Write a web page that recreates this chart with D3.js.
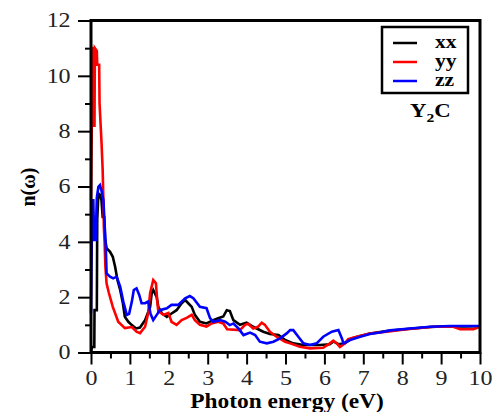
<!DOCTYPE html>
<html>
<head>
<meta charset="utf-8">
<script src="https://cdn.jsdelivr.net/npm/d3@7"></script>
<style>
  body { margin: 0; background: #fff; }
  svg { display: block; }
</style>
</head>
<body>
<div id="chart"></div>
<script>
// refractive index n(w) of Y2C, three polarisations
const xTicks = [0, 1, 2, 3, 4, 5, 6, 7, 8, 9, 10];
const yTicks = [0, 2, 4, 6, 8, 10, 12];
const seriesNames = ["xx", "yy", "zz"];
const seriesColours = ["#000000", "#ff0000", "#0000ff"];

const xx = [[0,0.05],[0.03,0.2],[0.085,0.2],[0.09,1.53],[0.15,1.53],[0.16,4.8],[0.19,5.75],[0.23,5.7],[0.27,5.5],[0.3,4.9],[0.34,4.9],[0.36,4.13],[0.4,3.77],[0.49,3.64],[0.56,3.46],[0.62,3.1],[0.68,2.62],[0.75,2.26],[0.82,1.78],[0.87,1.29],[0.96,1.11],[1.05,0.99],[1.16,0.87],[1.26,0.9],[1.39,1.17],[1.52,1.65],[1.56,2.14],[1.6,2.26],[1.69,2.0],[1.73,1.65],[1.82,1.42],[1.95,1.29],[2.08,1.42],[2.2,1.53],[2.33,1.78],[2.42,1.9],[2.5,1.78],[2.59,1.65],[2.67,1.36],[2.8,1.11],[2.97,1.05],[3.14,1.17],[3.27,1.24],[3.4,1.3],[3.49,1.53],[3.57,1.5],[3.66,1.17],[3.83,1.0],[4.0,1.08],[4.17,0.93],[4.43,0.75],[4.6,0.67],[4.82,0.63],[4.99,0.45],[5.2,0.33],[5.46,0.27],[5.89,0.27],[6.14,0.3],[6.23,0.4],[6.36,0.3],[6.53,0.33],[6.7,0.51],[6.92,0.6],[7.17,0.69],[7.6,0.78],[8.2,0.86],[8.72,0.92],[9.23,0.95],[9.6,0.94],[10,0.95]];

const yy = [[0,5.5],[0.02,8.2],[0.03,11.0],[0.06,11.0],[0.07,8.2],[0.09,8.2],[0.1,11.0],[0.15,10.9],[0.16,10.4],[0.21,10.4],[0.22,9.0],[0.27,7.6],[0.3,6.6],[0.32,5.4],[0.33,4.55],[0.35,3.95],[0.37,3.1],[0.4,2.5],[0.46,2.15],[0.56,1.65],[0.7,1.11],[0.87,0.88],[1.05,0.92],[1.17,0.75],[1.26,0.7],[1.39,0.93],[1.47,1.43],[1.52,2.15],[1.6,2.62],[1.67,2.5],[1.7,1.9],[1.73,1.5],[1.86,1.36],[1.99,1.43],[2.07,1.11],[2.2,1.0],[2.33,1.17],[2.46,1.25],[2.59,1.36],[2.67,1.17],[2.8,1.0],[2.97,0.94],[3.1,1.05],[3.27,1.11],[3.4,1.05],[3.5,0.84],[3.83,0.81],[3.96,1.0],[4.04,1.04],[4.17,0.87],[4.29,0.93],[4.39,1.08],[4.47,1.0],[4.6,0.75],[4.77,0.57],[4.99,0.39],[5.12,0.33],[5.37,0.21],[5.63,0.15],[5.97,0.17],[6.14,0.33],[6.23,0.43],[6.32,0.33],[6.4,0.2],[6.53,0.33],[6.61,0.48],[6.83,0.57],[7.17,0.69],[7.6,0.75],[8.12,0.84],[8.8,0.93],[9.31,0.93],[9.49,0.84],[9.83,0.84],[10,0.93]];

const zz = [[0,1.42],[0.03,5.5],[0.06,5.5],[0.08,4.07],[0.12,4.07],[0.15,5.6],[0.19,5.99],[0.23,6.05],[0.27,5.85],[0.32,5.5],[0.34,4.9],[0.38,3.82],[0.4,2.86],[0.49,2.74],[0.57,2.68],[0.66,2.74],[0.75,2.38],[0.83,1.84],[0.92,1.36],[0.98,1.4],[1.05,1.84],[1.1,2.26],[1.17,2.32],[1.24,2.08],[1.3,1.78],[1.39,1.78],[1.47,1.84],[1.53,1.4],[1.6,1.17],[1.69,1.36],[1.77,1.53],[1.95,1.6],[2.07,1.72],[2.24,1.72],[2.33,1.84],[2.42,1.96],[2.54,2.04],[2.63,1.96],[2.8,1.65],[2.97,1.6],[3.06,1.24],[3.14,1.11],[3.32,1.17],[3.45,1.11],[3.57,0.99],[3.66,1.05],[3.79,0.87],[3.92,0.63],[4.09,0.72],[4.22,0.63],[4.34,0.39],[4.52,0.33],[4.69,0.39],[4.86,0.51],[5.03,0.69],[5.12,0.81],[5.2,0.81],[5.33,0.57],[5.46,0.33],[5.63,0.27],[5.8,0.33],[5.97,0.57],[6.19,0.75],[6.36,0.81],[6.45,0.51],[6.49,0.33],[6.66,0.45],[6.92,0.57],[7.17,0.67],[7.43,0.72],[7.69,0.8],[8.2,0.87],[8.72,0.93],[9.23,0.96],[9.9,0.96],[10,0.96]];

const width = 494;
const height = 412;
const margin = { top: 20.5, right: 14, bottom: 59.5, left: 91 };
const serif = '"Liberation Serif", "DejaVu Serif", serif';
const stretch = 1.2; // the original lettering is a bit wide

const svg = d3.select('#chart')
  .append('svg')
  .attr('width', width)
  .attr('height', height);

const x = d3.scaleLinear().domain([0, 10]).range([margin.left, width - margin.right]);
const y = d3.scaleLinear().domain([0, 12]).range([height - margin.bottom, margin.top]);

// put a wide-ish text at (px, py)
function wideText(g, px, py, size, bold, sx) {
  return g.append('text')
    .attr('transform', `translate(${px},${py}) scale(${sx || stretch},1)`)
    .style('font-family', serif)
    .style('font-size', size + 'px')
    .style('font-weight', bold ? 'bold' : 'normal');
}

// minor ticks first, then major ones on top
svg.append('g')
  .attr('transform', `translate(0,${y(0)})`)
  .call(d3.axisBottom(x).tickValues(d3.range(0.5, 10, 1)).tickSize(6).tickFormat(''))
  .call(g => g.select('.domain').remove());
svg.append('g')
  .attr('transform', `translate(${x(0)},0)`)
  .call(d3.axisLeft(y).tickValues(d3.range(1, 12, 2)).tickSize(6).tickFormat(''))
  .call(g => g.select('.domain').remove());

const xAxis = svg.append('g')
  .attr('transform', `translate(0,${y(0)})`)
  .call(d3.axisBottom(x).tickValues(xTicks).tickSize(12).tickPadding(6).tickFormat(d3.format('d')));
xAxis.select('.domain').remove();

const yAxis = svg.append('g')
  .attr('transform', `translate(${x(0)},0)`)
  .call(d3.axisLeft(y).tickValues(yTicks).tickSize(13).tickPadding(4).tickFormat(d3.format('d')));
yAxis.select('.domain').remove();

svg.selectAll('.tick line').attr('stroke', '#000').attr('stroke-width', 2);
svg.selectAll('.tick text')
  .attr('fill', '#222')
  .attr('transform', `scale(${stretch},1)`)
  .style('font-family', serif)
  .style('font-size', '20px');

// curves
const line = d3.line().x(d => x(d[0])).y(d => y(d[1]));
const allSeries = [xx, yy, zz];
svg.append('g')
  .selectAll('path')
  .data(allSeries)
  .enter()
  .append('path')
  .attr('d', line)
  .attr('fill', 'none')
  .attr('stroke', (d, i) => seriesColours[i])
  .attr('stroke-width', 2.6)
  .attr('stroke-linejoin', 'miter');

// frame
svg.append('rect')
  .attr('x', x(0))
  .attr('y', y(12))
  .attr('width', x(10) - x(0))
  .attr('height', y(0) - y(12))
  .attr('fill', 'none')
  .attr('stroke', '#000')
  .attr('stroke-width', 3);

// legend
const legend = svg.append('g');
legend.append('rect')
  .attr('x', 382).attr('y', 27)
  .attr('width', 86).attr('height', 66)
  .attr('fill', '#fff')
  .attr('stroke', '#000')
  .attr('stroke-width', 2.5);
seriesNames.forEach((name, i) => {
  const ly = 43 + i * 19;
  legend.append('line')
    .attr('x1', 393).attr('x2', 417)
    .attr('y1', ly).attr('y2', ly)
    .attr('stroke', seriesColours[i])
    .attr('stroke-width', 2.5);
  wideText(legend, 435, ly + 5, 18, true).text(name);
});

const comp = wideText(svg, 410, 117, 19, true);
comp.append('tspan').text('Y');
comp.append('tspan').attr('dy', 5).style('font-size', '13px').text('2');
comp.append('tspan').attr('dy', -5).text('C');

// axis titles
wideText(svg, 287, 407.5, 20, true, 1.17)
  .attr('text-anchor', 'middle')
  .text('Photon energy (eV)');

wideText(svg, 35, 187, 20, true, 1)
  .attr('transform', `translate(35,187) rotate(-90)`)
  .attr('text-anchor', 'middle')
  .text('n(ω)');
</script>
</body>
</html>
